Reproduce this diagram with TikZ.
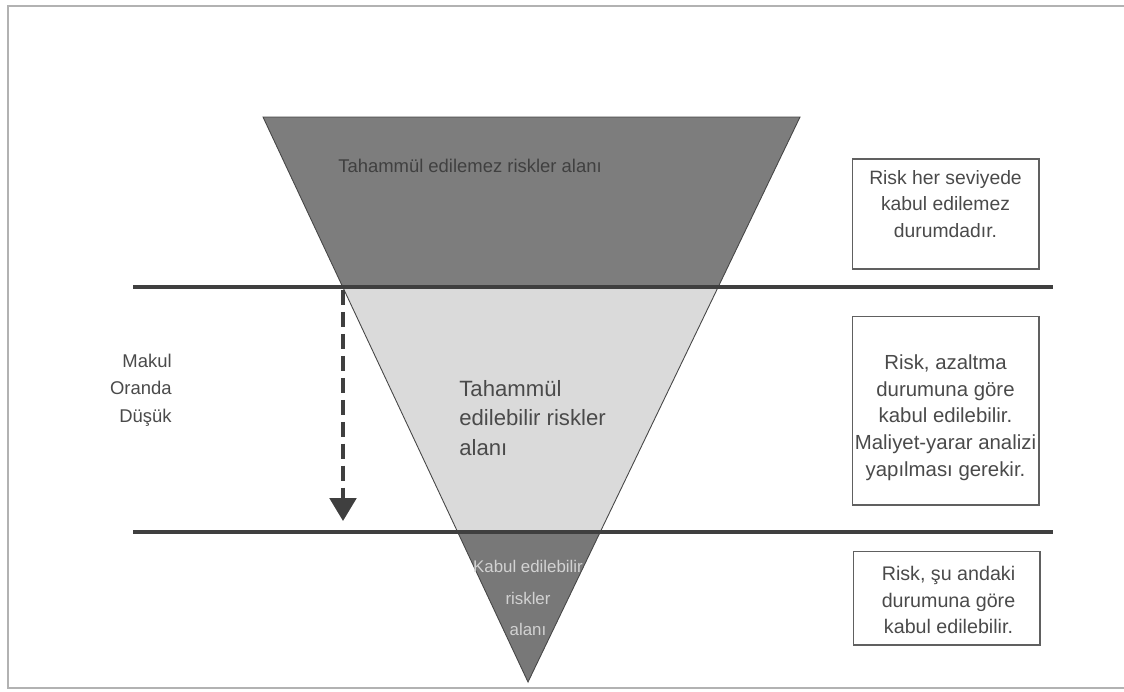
\documentclass[tikz,border=0pt]{standalone}
\usepackage{fontspec}
\setmainfont{Liberation Sans}
\usetikzlibrary{arrows.meta,positioning,calc}

\definecolor{zonehigh}{HTML}{7D7D7D}
\definecolor{zonemid}{HTML}{DADADA}
\definecolor{zonelow}{HTML}{787878}
\definecolor{bandline}{HTML}{3F3F3F}
\definecolor{txtgray}{HTML}{4A4A4A}

\begin{document}
\begin{tikzpicture}[
  x=0.02cm, y=-0.02cm,
  infobox/.style={rectangle, draw=gray!75!black, line width=0.6pt,
                  minimum width=3.74cm, minimum height=#1},
  infobox/.default={2cm},
  boxtext/.style={align=center, inner sep=0pt, text=txtgray,
                  font=\fontsize{#1}{15.2}\selectfont},
  boxtext/.default={11},
  bandline/.style={line width=2.2pt, color=bandline},
  zonelabel/.style={text=txtgray, inner sep=0pt},
  arrow/.style={-{Triangle[width=15pt,length=13pt]}, line width=2.2pt,
                dash pattern=on 8.5pt off 4pt, color=bandline}
]
  \useasboundingbox (0,0) rectangle (1124,691);

  % Frame
  \draw[gray!60, line width=0.8pt] (1124,6) -- (8,6) -- (8,688) -- (1124,688);

  % Triangle corners and band cuts
  \coordinate (topL) at (263,117);
  \coordinate (topR) at (800,117);
  \coordinate (apex) at (528,682);
  \coordinate (upL) at ($(topL)!0.3009!(apex)$);
  \coordinate (upR) at ($(topR)!0.3009!(apex)$);
  \coordinate (loL) at ($(topL)!0.7345!(apex)$);
  \coordinate (loR) at ($(topR)!0.7345!(apex)$);

  % Risk zones
  \fill[zonehigh] (topL) -- (topR) -- (upR) -- (upL) -- cycle;
  \fill[zonemid] (upL) -- (upR) -- (loR) -- (loL) -- cycle;
  \fill[zonelow] (loL) -- (loR) -- (apex) -- cycle;
  \draw[gray!55!black, line width=0.5pt] (topL) -- (topR) -- (apex) -- cycle;

  % Band lines
  \coordinate (bandA1) at (133,287);
  \coordinate (bandA2) at (1053,287);
  \coordinate (bandB1) at (133,532);
  \coordinate (bandB2) at (1053,532);
  \draw[bandline] (bandA1) -- (bandA2);
  \draw[bandline] (bandB1) -- (bandB2);

  % Zone labels
  \node[zonelabel, font=\fontsize{10.5}{13}\selectfont, text=black!75] (high) at (470,166)
    {Tahammül edilemez riskler alanı};
  \node[zonelabel, font=\fontsize{12.6}{17}\selectfont, anchor=west, align=left] (mid) at (459,418)
    {Tahammül\\edilebilir riskler\\alanı};
  \node[font=\fontsize{9.6}{18}\selectfont, text=gray!35, align=center, inner sep=0pt]
    (low) at (528,598) {Kabul edilebilir\\riskler\\alanı};

  % Reduction arrow
  \coordinate (arrS) at (343,290);
  \coordinate (arrE) at (343,521);
  \draw[arrow] (arrS) -- (arrE);
  \node[zonelabel, font=\fontsize{10.5}{15.6}\selectfont, anchor=east, align=right] (alarp) at (172,390)
    {Makul\\Oranda\\Düşük};

  % Explanation boxes
  \node[infobox=2.2cm] (boxhigh) at (945.5,214) {};
  \node[boxtext={11}] (txthigh) at ($(boxhigh)+(0,-10)$)
    {Risk her seviyede\\kabul edilemez\\durumdadır.};
  \node[infobox=3.78cm] (boxmid) at (945.5,410.5) {};
  \node[boxtext={11.6}] (txtmid) at ($(boxmid)+(0,7)$)
    {Risk, azaltma\\durumuna göre\\kabul edilebilir.\\Maliyet-yarar analizi\\yapılması gerekir.};
  \node[infobox=1.88cm] (boxlow) at (946.5,598) {};
  \node[boxtext={11.2}] (txtlow) at ($(boxlow)+(2,2)$)
    {Risk, şu andaki\\durumuna göre\\kabul edilebilir.};
\end{tikzpicture}
\end{document}
